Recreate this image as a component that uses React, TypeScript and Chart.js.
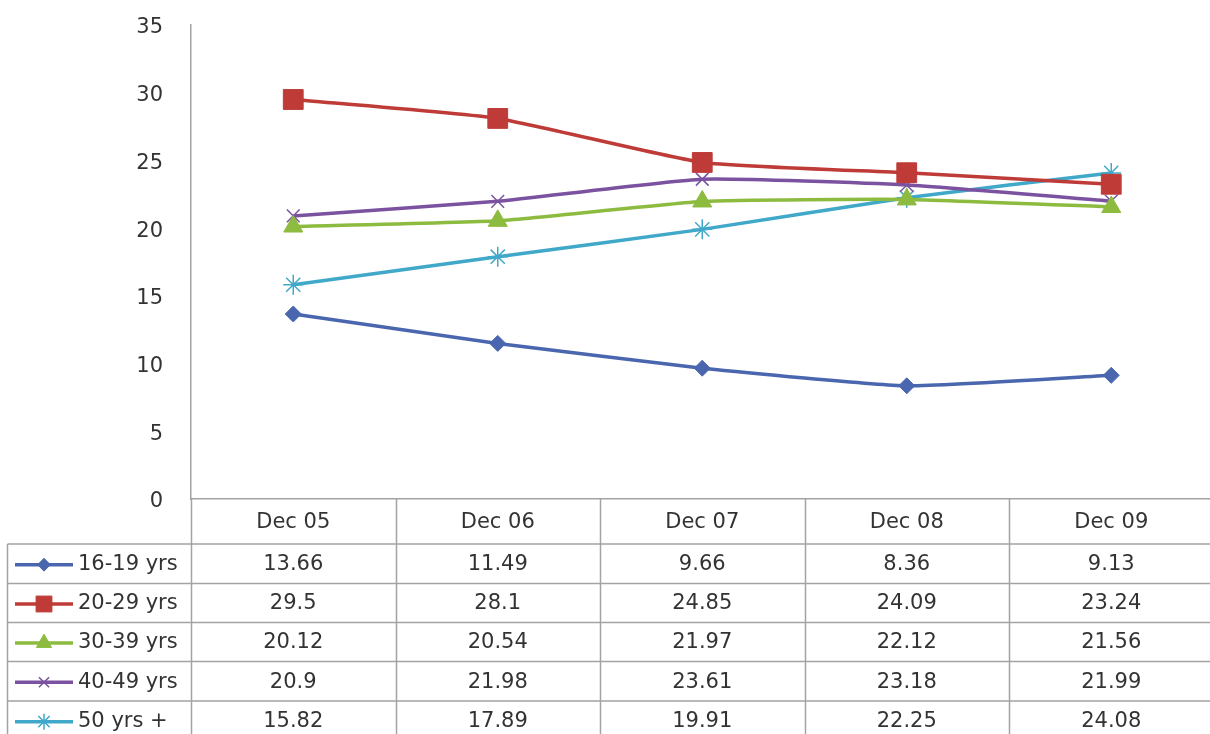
import React, { useEffect, useRef } from "react";
import { Chart, registerables } from "chart.js";
import { drawPoint } from "chart.js/helpers";

Chart.register(...registerables);

const categories = ["Dec 05", "Dec 06", "Dec 07", "Dec 08", "Dec 09"];
const seriesNames = ["16-19 yrs", "20-29 yrs", "30-39 yrs", "40-49 yrs", "50 yrs +"];
const s1619 = [13.66, 11.49, 9.66, 8.36, 9.13];
const s2029 = [29.5, 28.1, 24.85, 24.09, 23.24];
const s3039 = [20.12, 20.54, 21.97, 22.12, 21.56];
const s4049 = [20.9, 21.98, 23.61, 23.18, 21.99];
const s50 = [15.82, 17.89, 19.91, 22.25, 24.08];
const yTicks = [0, 5, 10, 15, 20, 25, 30, 35];

const colors = ["#4A66AE", "#BE3B38", "#8DBB3F", "#7A52A0", "#40A8C8"];
const styles = ["rectRot", "rect", "triangle", "crossRot", "star"];
const radii = [8, 14, 11, 9, 10];
const allSeries = [s1619, s2029, s3039, s4049, s50];

const FONT = "'DejaVu Sans', sans-serif";
const TEXT = "#333333";
const GRID = "#a3a3a3";
const ROW_LINES = [544, 583.5, 622.5, 661.5, 701];

const tablePlugin = {
  id: "dataTable",
  afterDraw(chart: any) {
    const ctx = chart.ctx;
    const x = chart.scales.x;
    const n = categories.length;
    const band = (x.right - x.left) / n;
    const H = chart.height;
    const top = chart.chartArea.bottom;
    const leftEdge = 7.5;
    ctx.save();
    ctx.strokeStyle = GRID;
    ctx.lineWidth = 1.5;
    ctx.beginPath();
    for (let i = 0; i <= n; i++) {
      const bx = Math.round(x.left + i * band) + 0.5;
      ctx.moveTo(bx, top);
      ctx.lineTo(bx, H);
    }
    ctx.moveTo(leftEdge, ROW_LINES[0]);
    ctx.lineTo(leftEdge, H);
    for (const ry of ROW_LINES) {
      ctx.moveTo(leftEdge, ry);
      ctx.lineTo(x.right, ry);
    }
    ctx.stroke();

    ctx.fillStyle = TEXT;
    ctx.font = `21px ${FONT}`;
    ctx.textAlign = "center";
    ctx.textBaseline = "middle";
    categories.forEach((c, i) => {
      const cx = x.getPixelForValue(i);
      ctx.fillText(c, cx, (top + ROW_LINES[0]) / 2 + 1);
    });
    const rowBounds = [...ROW_LINES, ROW_LINES[4] + 39.3];
    allSeries.forEach((vals, r) => {
      const cy = (rowBounds[r] + rowBounds[r + 1]) / 2 + 1;
      vals.forEach((v, i) => {
        ctx.fillStyle = TEXT;
        ctx.textAlign = "center";
        ctx.fillText(String(v), x.getPixelForValue(i), cy);
      });
      ctx.strokeStyle = colors[r];
      ctx.lineWidth = 3.5;
      ctx.beginPath();
      ctx.moveTo(15, cy);
      ctx.lineTo(73, cy);
      ctx.stroke();
      ctx.fillStyle = colors[r];
      ctx.strokeStyle = colors[r];
      const thin = styles[r] === "crossRot" || styles[r] === "star";
      ctx.lineWidth = thin ? 1.5 : 1;
      drawPoint(ctx, { pointStyle: styles[r], radius: radii[r] * 0.8, rotation: 0, borderWidth: ctx.lineWidth }, 44, cy);
      ctx.fillStyle = TEXT;
      ctx.textAlign = "left";
      ctx.fillText(seriesNames[r], 78, cy);
    });
    ctx.restore();
  },
};

export default function App() {
  const ref = useRef<HTMLCanvasElement>(null);
  useEffect(() => {
    if (!ref.current) return;
    const chart = new Chart(ref.current, {
      type: "line",
      data: {
        labels: categories,
        datasets: allSeries.map((vals, i) => ({
          label: seriesNames[i],
          data: vals,
          borderColor: colors[i],
          backgroundColor: colors[i],
          borderWidth: 3.5,
          pointStyle: styles[i] as any,
          pointRadius: radii[i],
          pointBorderWidth: styles[i] === "crossRot" || styles[i] === "star" ? 1.5 : 1,
          pointBackgroundColor: colors[i],
          pointBorderColor: colors[i],
          tension: 0.15,
          fill: false,
        })),
      },
      options: {
        responsive: false,
        animation: false,
        devicePixelRatio: 1,
        layout: { padding: { top: 25, bottom: 235, left: 0, right: 16.5 } },
        plugins: { legend: { display: false }, tooltip: { enabled: false } },
        scales: {
          x: {
            type: "category",
            offset: true,
            grid: { display: false, drawTicks: false },
            border: { display: true, color: GRID, width: 1.5 },
            ticks: { display: false },
            afterFit: (s: any) => {
              s.height = 0;
              s.paddingLeft = 0;
              s.paddingRight = 0;
            },
          },
          y: {
            min: 0,
            max: 35,
            afterBuildTicks: (s: any) => {
              s.ticks = yTicks.map((v) => ({ value: v }));
            },
            grid: { display: false, drawTicks: false },
            border: { display: true, color: GRID, width: 1.5 },
            ticks: {
              padding: 28,
              labelOffset: 3,
              color: TEXT,
              font: { family: FONT, size: 21 },
            },
            afterFit: (s: any) => {
              s.width = 191;
              s.paddingTop = 0;
              s.paddingBottom = 0;
            },
          },
        },
      },
      plugins: [tablePlugin],
    });
    return () => chart.destroy();
  }, []);
  return (
    <div style={{ position: "fixed", left: 0, top: 0, width: 1210, height: 734, overflow: "hidden", background: "#fff" }}>
      <canvas ref={ref} width={1230} height={734} style={{ display: "block", width: 1230, height: 734 }} />
    </div>
  );
}
